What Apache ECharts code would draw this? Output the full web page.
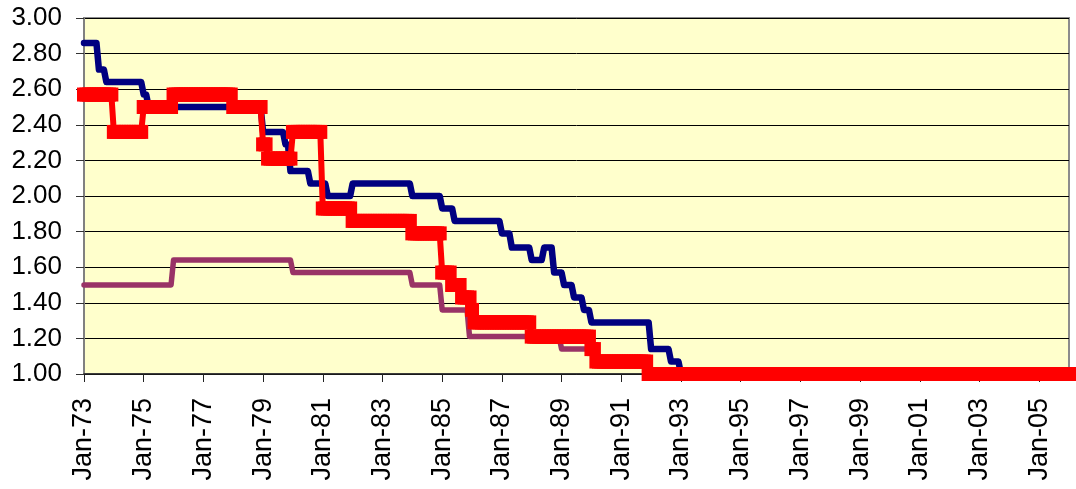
<!DOCTYPE html>
<html>
<head>
<meta charset="utf-8">
<script src="https://cdn.jsdelivr.net/npm/echarts@6/dist/echarts.min.js"></script>
<style>
html,body{margin:0;padding:0;background:#fff;}
#chart{width:1076px;height:489px;}
</style>
</head>
<body>
<div id="chart"></div>
<script>
// Category axis: monthly, Jan-73 .. Jan-06
const monthNames = ['Jan','Feb','Mar','Apr','May','Jun','Jul','Aug','Sep','Oct','Nov','Dec'];
const firstYear = 1973, lastYear = 2006;
const categories = [];
for (let y = firstYear; y <= lastYear; y++) {
  for (let m = 0; m < 12; m++) {
    if (y === lastYear && m > 0) break;
    categories.push(monthNames[m] + '-' + String(y % 100).padStart(2, '0'));
  }
}

// Step values: [first month of the level, level]
const navyRuns = [
  ['Jan-73', 2.86], ['Jul-73', 2.71], ['Oct-73', 2.64], ['Jan-75', 2.57], ['Mar-75', 2.50],
  ['Jan-79', 2.36], ['Oct-79', 2.29], ['Dec-79', 2.14], ['Aug-80', 2.07], ['Mar-81', 2.00],
  ['Jan-82', 2.07], ['Jan-84', 2.00], ['Jan-85', 1.93], ['Jun-85', 1.86], ['Jan-87', 1.79],
  ['May-87', 1.71], ['Jan-88', 1.64], ['Jun-88', 1.71], ['Oct-88', 1.57], ['Feb-89', 1.50],
  ['Jun-89', 1.43], ['Oct-89', 1.36], ['Jan-90', 1.29], ['Jan-92', 1.14], ['Sep-92', 1.07],
  ['Jan-93', 1.00]
];
const purpleRuns = [
  ['Jan-73', 1.50], ['Jan-76', 1.64], ['Jan-80', 1.57], ['Jan-84', 1.50], ['Jan-85', 1.36],
  ['Dec-85', 1.21], ['Jan-89', 1.14], ['Mar-90', 1.07], ['Dec-91', 1.00]
];
const redRuns = [
  ['Jan-73', 2.57], ['Jan-74', 2.36], ['Jan-75', 2.50], ['Jan-76', 2.57], ['Jan-78', 2.50],
  ['Jan-79', 2.29], ['Mar-79', 2.21], ['Jan-80', 2.36], ['Jan-81', 1.93], ['Jan-82', 1.86],
  ['Jan-84', 1.79], ['Jan-85', 1.57], ['May-85', 1.50], ['Sep-85', 1.43], ['Jan-86', 1.36],
  ['Feb-86', 1.29], ['Jan-88', 1.21], ['Jan-90', 1.14], ['Mar-90', 1.07], ['Dec-91', 1.00]
];

function monthly(runs) {
  const out = [];
  for (let r = 0; r < runs.length; r++) {
    const start = categories.indexOf(runs[r][0]);
    const end = r + 1 < runs.length ? categories.indexOf(runs[r + 1][0]) : categories.length;
    for (let i = start; i < end; i++) out.push(runs[r][1]);
  }
  return out;
}

const chart = echarts.init(document.getElementById('chart'), null, {renderer: 'canvas'});
const font = "'Liberation Sans', Arial, sans-serif";
chart.setOption({
  animation: false,
  grid: {
    left: 84, right: 7, top: 18, bottom: 115,
    show: true, backgroundColor: '#FFFFCC', borderColor: '#8c8c8c', borderWidth: 2
  },
  xAxis: {
    type: 'category',
    data: categories,
    boundaryGap: false,
    axisLine: {lineStyle: {color: '#222', width: 1.5}},
    axisTick: {show: true, interval: 23, length: 8, lineStyle: {color: '#222', width: 1}},
    axisLabel: {
      interval: 23, rotate: 90, margin: 24,
      fontSize: 27, fontFamily: font, color: '#000'
    },
    splitLine: {show: false}
  },
  yAxis: {
    type: 'value',
    min: 1, max: 3, interval: 0.2,
    axisLine: {show: true, lineStyle: {color: '#808080', width: 2}},
    axisTick: {show: true, length: 8, lineStyle: {color: '#333', width: 1}},
    axisLabel: {
      margin: 22, fontSize: 26, fontFamily: font, color: '#000',
      formatter: v => v.toFixed(2)
    },
    splitLine: {show: true, lineStyle: {color: '#000', width: 1}}
  },
  series: [
    {
      name: 'navy', type: 'line', data: monthly(navyRuns),
      showSymbol: false, symbol: 'none',
      lineStyle: {color: '#000080', width: 6.5, join: 'round', cap: 'round'},
      z: 2
    },
    {
      name: 'purple', type: 'line', data: monthly(purpleRuns),
      showSymbol: false, symbol: 'none',
      lineStyle: {color: '#993366', width: 5.5, join: 'round', cap: 'round'},
      z: 2
    },
    {
      name: 'red', type: 'line', data: monthly(redRuns),
      clip: false,
      showSymbol: true, showAllSymbol: true,
      symbol: 'rect', symbolSize: 14,
      itemStyle: {color: '#FF0000', borderWidth: 0},
      lineStyle: {color: '#FF0000', width: 6},
      z: 3
    }
  ]
});
</script>
</body>
</html>
